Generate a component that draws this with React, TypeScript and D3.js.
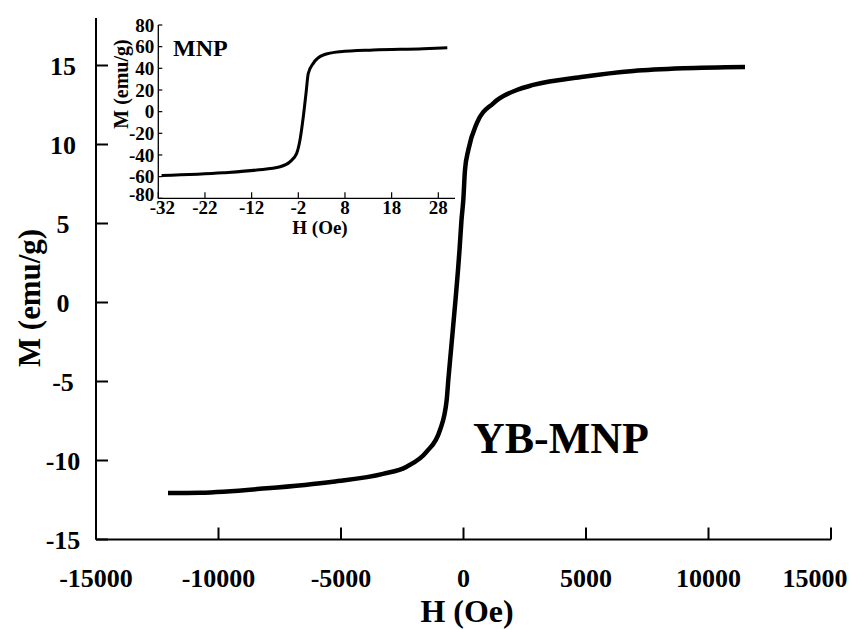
import React, { useEffect, useRef } from 'react';
import * as d3 from 'd3';

// main hysteresis loop (YB-MNP)
const mainH = [-12060, -10755, -8033, -5327, -3286, -2318, -1502, -959, -686, -620, -510, -327, -224, -163, -82, -8, 61, 196, 539, 1216, 2171, 2849, 4890, 6931, 8971, 11490];
const mainM = [-12.06, -12.04, -11.76, -11.34, -10.85, -10.39, -9.44, -8.07, -6.17, -4.9, -3.01, 0.16, 2.06, 3.32, 5.22, 6.49, 8.39, 9.65, 11.34, 12.61, 13.45, 13.77, 14.29, 14.65, 14.82, 14.9];

// inset loop (MNP)
const insetH = [-31.3, -18.1, -10.9, -5.9, -3.8, -2.35, -1.64, -0.93, -0.35, 0.14, 1.21, 3.36, 6.93, 14.07, 24.78, 29.93];
const insetM = [-59, -56.4, -53.9, -50.9, -46.3, -38.5, -26.2, -4.7, 16.9, 35.4, 44.6, 52.3, 55.3, 56.9, 58.1, 59.0];

const mainXTicks = [-15000, -10000, -5000, 0, 5000, 10000, 15000];
const mainYTicks = [-15, -10, -5, 0, 5, 10, 15];
const insetXTicks = [-32, -22, -12, -2, 8, 18, 28];
const insetYTicks = [-80, -60, -40, -20, 0, 20, 40, 60, 80];

const FONT = "'Liberation Serif', 'Times New Roman', serif";

export default function App() {
  const ref = useRef<SVGSVGElement>(null);

  useEffect(() => {
    const svg = d3.select(ref.current);
    svg.selectAll('*').remove();

    // ---- main chart
    const x = d3.scaleLinear().domain([-15000, 15000]).range([96, 831]);
    const y = d3.scaleLinear().domain([-15, 15]).range([539.5, 65.5]);
    const yTop = 18;

    const g = svg.append('g').attr('font-family', FONT).attr('font-weight', 'bold');

    // axes lines
    g.append('line')
      .attr('x1', x(-15000)).attr('y1', yTop)
      .attr('x2', x(-15000)).attr('y2', y(-15))
      .attr('stroke', '#000').attr('stroke-width', 2);
    g.append('line')
      .attr('x1', x(-15000)).attr('y1', y(-15))
      .attr('x2', x(15000)).attr('y2', y(-15))
      .attr('stroke', '#000').attr('stroke-width', 2);

    // y ticks (inward)
    g.selectAll('.yt')
      .data(mainYTicks)
      .enter()
      .append('line')
      .attr('x1', x(-15000)).attr('x2', x(-15000) + 12)
      .attr('y1', d => y(d)).attr('y2', d => y(d))
      .attr('stroke', '#000').attr('stroke-width', 2);

    g.selectAll('.yl')
      .data(mainYTicks)
      .enter()
      .append('text')
      .attr('x', 63)
      .attr('y', d => y(d))
      .attr('dy', '0.35em')
      .attr('text-anchor', 'middle')
      .attr('font-size', 26)
      .text(d => d);

    // x ticks (inward)
    g.selectAll('.xt')
      .data(mainXTicks)
      .enter()
      .append('line')
      .attr('x1', d => x(d)).attr('x2', d => x(d))
      .attr('y1', y(-15)).attr('y2', y(-15) - 12)
      .attr('stroke', '#000').attr('stroke-width', 2);

    g.selectAll('.xl')
      .data(mainXTicks)
      .enter()
      .append('text')
      .attr('x', d => Math.min(x(d), 815))
      .attr('y', 587)
      .attr('text-anchor', 'middle')
      .attr('font-size', 26)
      .text(d => d);

    // axis titles
    g.append('text')
      .attr('x', 467).attr('y', 622)
      .attr('text-anchor', 'middle')
      .attr('font-size', 32)
      .attr('textLength', 93)
      .attr('lengthAdjust', 'spacingAndGlyphs')
      .text('H (Oe)');

    g.append('text')
      .attr('transform', 'translate(40,298) rotate(-90)')
      .attr('text-anchor', 'middle')
      .attr('font-size', 32)
      .attr('textLength', 138)
      .attr('lengthAdjust', 'spacingAndGlyphs')
      .text('M (emu/g)');

    const line = d3.line<number>()
      .x((d, i) => x(mainH[i]))
      .y(d => y(d))
      .curve(d3.curveMonotoneX);

    g.append('path')
      .attr('d', line(mainM))
      .attr('fill', 'none')
      .attr('stroke', '#000')
      .attr('stroke-width', 4.5)
      .attr('stroke-linejoin', 'round');

    g.append('text')
      .attr('x', 473).attr('y', 453)
      .attr('font-size', 44)
      .text('YB-MNP');

    // ---- inset
    const ix = d3.scaleLinear().domain([-32, 28]).range([158.3, 438.3]);
    const iy = d3.scaleLinear().domain([-80, 80]).range([198.3, 25]);
    const ixEnd = 455;

    const ig = svg.append('g').attr('font-family', FONT).attr('font-weight', 'bold');

    ig.append('line')
      .attr('x1', ix(-32)).attr('y1', iy(80))
      .attr('x2', ix(-32)).attr('y2', iy(-80))
      .attr('stroke', '#000').attr('stroke-width', 1.3);
    ig.append('line')
      .attr('x1', ix(-32)).attr('y1', iy(-80))
      .attr('x2', ixEnd).attr('y2', iy(-80))
      .attr('stroke', '#000').attr('stroke-width', 1.3);

    ig.selectAll('.iyt')
      .data(insetYTicks)
      .enter()
      .append('line')
      .attr('x1', ix(-32)).attr('x2', ix(-32) + 4)
      .attr('y1', d => iy(d)).attr('y2', d => iy(d))
      .attr('stroke', '#000').attr('stroke-width', 1.2);

    ig.selectAll('.iyl')
      .data(insetYTicks)
      .enter()
      .append('text')
      .attr('x', ix(-32) - 4)
      .attr('y', d => iy(d))
      .attr('dy', d => d === -80 ? '0.15em' : '0.35em')
      .attr('text-anchor', 'end')
      .attr('font-size', 19)
      .text(d => d);

    ig.selectAll('.ixt')
      .data(insetXTicks)
      .enter()
      .append('line')
      .attr('x1', d => ix(d)).attr('x2', d => ix(d))
      .attr('y1', iy(-80)).attr('y2', iy(-80) - 6)
      .attr('stroke', '#000').attr('stroke-width', 1.2);

    ig.selectAll('.ixl')
      .data(insetXTicks)
      .enter()
      .append('text')
      .attr('x', d => d === -32 ? ix(d) + 4 : ix(d))
      .attr('y', 214)
      .attr('text-anchor', 'middle')
      .attr('font-size', 19)
      .text(d => d);

    ig.append('text')
      .attr('x', 320).attr('y', 234)
      .attr('text-anchor', 'middle')
      .attr('font-size', 19)
      .text('H (Oe)');

    ig.append('text')
      .attr('transform', 'translate(128,84) rotate(-90)')
      .attr('text-anchor', 'middle')
      .attr('font-size', 20)
      .text('M (emu/g)');

    ig.append('text')
      .attr('x', 173).attr('y', 56)
      .attr('font-size', 24)
      .text('MNP');

    const iline = d3.line<number>()
      .x((d, i) => ix(insetH[i]))
      .y(d => iy(d))
      .curve(d3.curveMonotoneX);

    ig.append('path')
      .attr('d', iline(insetM))
      .attr('fill', 'none')
      .attr('stroke', '#000')
      .attr('stroke-width', 3)
      .attr('stroke-linejoin', 'round');
  }, []);

  return (
    <svg
      ref={ref}
      width={857}
      height={630}
      style={{ position: 'absolute', left: 0, top: 0, background: '#fff' }}
    />
  );
}
